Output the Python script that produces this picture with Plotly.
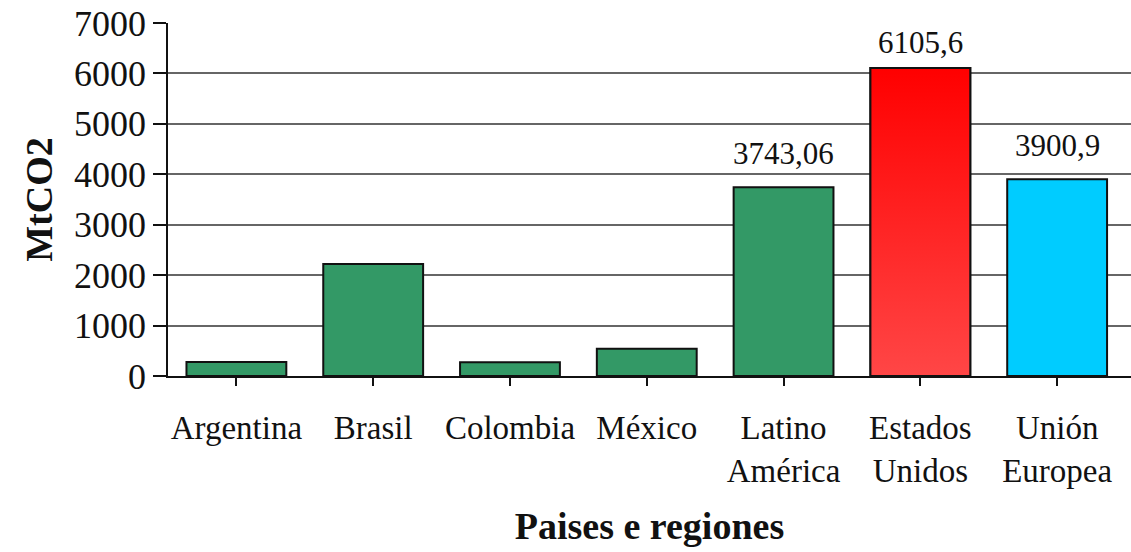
import plotly.graph_objects as go

categories = ["Argentina", "Brasil", "Colombia", "México", "Latino<br>América", "Estados<br>Unidos", "Unión<br>Europea"]
values = [280, 2220, 275, 540, 3743.06, 6105.6, 3900.9]
labels = ["", "", "", "", "3743,06", "6105,6", "3900,9"]
label_shift = [0, 0, 0, 0, 14, 6, 14]
colors = ["#339966", "#339966", "#339966", "#339966", "#339966", "#FF2222", "#00CCFF"]
y_ticks = [0, 1000, 2000, 3000, 4000, 5000, 6000, 7000]

FONT = "Liberation Serif"
BAR_W = 0.73
xs = list(range(len(categories)))

fig = go.Figure()
fig.add_trace(go.Bar(
    x=xs,
    y=values,
    width=BAR_W,
    marker=dict(color=colors, line=dict(color="#111111", width=2)),
    hoverinfo="skip",
))

# gradient overlay for the highlighted (red) bar, derived from its data value
i_red = 5
v = values[i_red]
fig.add_trace(go.Scatter(
    x=[xs[i_red] - BAR_W / 2, xs[i_red] + BAR_W / 2, xs[i_red] + BAR_W / 2, xs[i_red] - BAR_W / 2, xs[i_red] - BAR_W / 2],
    y=[0, 0, v, v, 0],
    mode="lines",
    fill="toself",
    fillgradient=dict(type="vertical", colorscale=[[0, "#FF4646"], [1, "#FF0000"]]),
    line=dict(color="#111111", width=2),
    hoverinfo="skip",
))

for xi, val, lab, sh in zip(xs, values, labels, label_shift):
    if lab:
        fig.add_annotation(
            x=xi, y=val, text=lab, showarrow=False,
            yanchor="bottom", yshift=sh,
            font=dict(family=FONT, size=31, color="#111111"),
        )

fig.update_layout(
    width=1131, height=552,
    margin=dict(l=168, r=0, t=23, b=176),
    paper_bgcolor="white", plot_bgcolor="white",
    showlegend=False,
    font=dict(family=FONT, color="#111111"),
)
fig.update_xaxes(
    tickmode="array",
    tickvals=xs,
    ticktext=categories,
    range=[-0.5, 6.54],
    tickson="boundaries",
    ticks="outside", ticklen=8, tickcolor="#111111", tickwidth=1.5,
    showline=True, linecolor="#111111", linewidth=1.5,
    showgrid=False,
    tickfont=dict(family=FONT, size=33),
    ticklabelstandoff=14,
    automargin=False,
    title=dict(text="<b>Paises e regiones</b>", font=dict(family=FONT, size=38), standoff=24),
)
fig.update_yaxes(
    range=[0, 7000],
    tickmode="array", tickvals=y_ticks,
    ticksuffix="\u00a0\u00a0\u2009",
    ticks="outside", ticklen=13, tickcolor="#111111", tickwidth=1.5,
    showline=True, linecolor="#111111", linewidth=1.5,
    showgrid=True, gridcolor="#666666", gridwidth=1.5,
    zeroline=False,
    tickfont=dict(family=FONT, size=36),
    automargin=False,
    title=dict(text="<b>MtCO2</b>", font=dict(family=FONT, size=38), standoff=10),
)

fig.write_html("out.html", config={"displayModeBar": False},
               post_script="document.body.style.margin='0';")
